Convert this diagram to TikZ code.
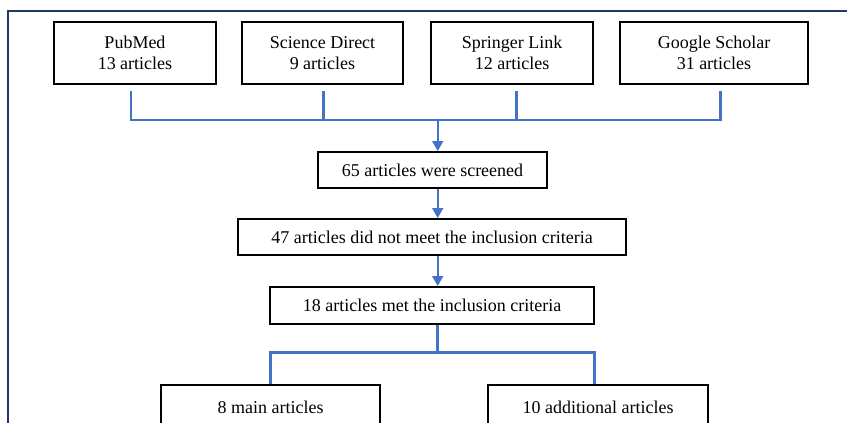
\documentclass[tikz,border=0pt]{standalone}
\usepackage{fontspec}
\setmainfont{Liberation Serif}
\usetikzlibrary{arrows.meta,calc}
\definecolor{connblue}{HTML}{4472C4}
\definecolor{framenavy}{HTML}{203864}
\tikzset{
  box/.style={draw=black, line width=2pt, inner sep=0pt, align=center,
    font=\fontsize{18}{21}\selectfont, text=black},
  conn/.style={draw=connblue, line width=2.8pt},
  arr/.style={draw=connblue, line width=1.7pt, -{Triangle[width=11pt,length=10pt]}},
  framel/.style={draw=framenavy, line width=1.8pt}
}
\begin{document}
\begin{tikzpicture}[x=1pt,y=-1pt]
\useasboundingbox (0,0) rectangle (847,423);
\clip (0,0) rectangle (847,423);
% frame
\coordinate (fa) at (8,423);
\coordinate (fb) at (8,11);
\coordinate (fc) at (850,11);
\draw[framel] (fa) -- (fb) -- (fc);
% source boxes
\node[box, minimum width=162pt, minimum height=62pt] (pub) at (135,53) {PubMed\\13 articles};
\node[box, minimum width=161pt, minimum height=62pt] (sd) at (322.5,53) {Science Direct\\9 articles};
\node[box, minimum width=162pt, minimum height=62pt] (sl) at (512,53) {Springer Link\\12 articles};
\node[box, minimum width=188pt, minimum height=62pt] (gs) at (714,53) {Google Scholar\\31 articles};
% middle boxes
\node[box, minimum width=229pt, minimum height=36pt] (s65) at (432.5,170) {65 articles were screened};
\node[box, minimum width=388pt, minimum height=36pt] (s47) at (432,237) {47 articles did not meet the inclusion criteria};
\node[box, minimum width=324pt, minimum height=37pt] (s18) at (432,305.5) {18 articles met the inclusion criteria};
% bottom boxes
\node[box, minimum width=219pt, minimum height=45pt] (main) at (270.5,407.5) {8 main articles};
\node[box, minimum width=220pt, minimum height=45pt] (add) at (598,407.5) {10 additional articles};
% connectors
\coordinate (b1) at (131,91);
\coordinate (b2) at (323.3,91);
\coordinate (b3) at (516.3,91);
\coordinate (b4) at (720.7,91);
\coordinate (bus) at (437.7,120);
\draw[conn] (b1) |- (bus) -| (b4);
\draw[conn] (b2) -- (b2 |- bus);
\draw[conn] (b3) -- (b3 |- bus);
\draw[arr] (bus) -- (bus |- s65.north);
\draw[arr] (s65.south -| bus) -- (s47.north -| bus);
\draw[arr] (s47.south -| bus) -- (s18.north -| bus);
\coordinate (l1) at (270.7,352.5);
\coordinate (r1) at (594.3,352.5);
\draw[conn] (s18.south -| bus) -- (bus |- l1);
\draw[conn] (main.north -| l1) -- (l1) -- (r1) -- (add.north -| r1);
\end{tikzpicture}
\end{document}
